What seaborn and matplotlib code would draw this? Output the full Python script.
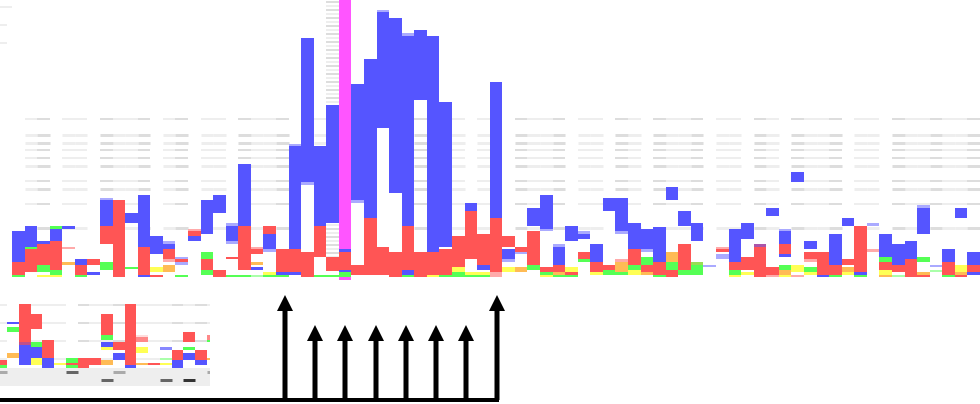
import numpy as np
import pandas as pd
import matplotlib
matplotlib.use("Agg")
import matplotlib.pyplot as plt
import seaborn as sns

sns.set_theme(style="white")
plt.rcParams["font.family"] = ["DejaVu Sans"]

# ---------------------------------------------------------------------------
# Main track: 77 columns, each made of coloured segments (column, low, high)
# ---------------------------------------------------------------------------
N_COLS = 77
COLUMNS = list(range(N_COLS))

BLUE = [
    (0, 15, 46), (1, 30, 51), (2, 33, 36), (3, 36, 48), (4, 48, 51), (5, 12, 18),
    (6, 2, 5), (7, 51, 77), (9, 54, 64), (10, 30, 82), (10, 0, 2), (11, 23, 41),
    (12, 28, 33), (14, 36, 41), (15, 43, 77), (16, 64, 82), (17, 36, 51),
    (18, 51, 113), (19, 7, 10), (20, 28, 43), (21, 2, 5), (22, 28, 131), (22, 2, 5),
    (23, 95, 239), (24, 51, 131), (25, 54, 172), (26, 25, 28), (26, 5, 7),
    (27, 77, 193), (28, 59, 218), (29, 149, 265), (30, 84, 259), (31, 51, 241),
    (31, 2, 7), (32, 177, 247), (33, 25, 241), (34, 30, 175), (36, 66, 74),
    (37, 7, 12), (38, 59, 195), (39, 18, 28), (41, 51, 69), (42, 48, 82),
    (43, 12, 30), (44, 36, 51), (45, 38, 43), (46, 15, 33), (47, 66, 79),
    (48, 46, 79), (49, 28, 54), (50, 28, 48), (51, 15, 50), (52, 77, 90),
    (53, 51, 66), (54, 36, 54), (57, 15, 48), (58, 38, 54), (60, 61, 69),
    (61, 33, 46), (61, 20, 23), (62, 95, 105), (63, 28, 36), (64, 0, 2),
    (65, 12, 43), (66, 51, 59), (67, 2, 5), (69, 20, 43), (70, 12, 33),
    (71, 18, 36), (72, 43, 69), (74, 15, 28), (75, 59, 69), (76, 12, 25), (76, 2, 5),
]

RED = [
    (0, 2, 15), (1, 5, 28), (2, 12, 33), (3, 7, 36), (5, 2, 12), (6, 12, 18),
    (7, 33, 51), (8, 0, 77), (10, 2, 30), (11, 0, 2), (12, 18, 28), (13, 15, 18),
    (14, 41, 46), (15, 7, 18), (16, 0, 7), (17, 18, 20), (18, 7, 51), (19, 23, 28),
    (20, 43, 51), (21, 5, 28), (22, 5, 28), (23, 0, 25), (24, 20, 51), (25, 6, 20),
    (26, 7, 25), (27, 2, 12), (28, 2, 59), (29, 2, 30), (30, 0, 25), (31, 7, 51),
    (32, 0, 25), (33, 2, 25), (34, 2, 28), (35, 10, 41), (36, 18, 66), (37, 12, 43),
    (38, 5, 59), (39, 30, 41), (40, 25, 30), (41, 12, 46), (42, 5, 10), (43, 5, 12),
    (44, 2, 5), (45, 18, 25), (46, 5, 15), (47, 7, 12), (49, 12, 28), (50, 5, 12),
    (51, 2, 15), (52, 0, 7), (53, 7, 33), (56, 25, 28), (57, 7, 15), (58, 7, 20),
    (59, 0, 30), (60, 2, 10), (61, 23, 33), (63, 18, 25), (64, 2, 25), (65, 2, 12),
    (66, 12, 18), (67, 5, 51), (69, 7, 15), (70, 5, 12), (71, 0, 18), (72, 0, 2),
    (74, 2, 15), (75, 0, 2), (76, 5, 12),
]

GREEN = [
    (0, 0, 2), (1, 28, 30), (2, 5, 12), (3, 48, 51), (3, 2, 7), (5, 0, 2),
    (7, 7, 15), (9, 8, 10), (13, 0, 2), (15, 18, 25), (15, 2, 7), (17, 0, 2),
    (18, 0, 2), (20, 0, 2), (21, 0, 2), (24, 0, 2), (25, 0, 2), (26, 0, 5),
    (31, 0, 2), (34, 0, 2), (35, 0, 5), (36, 0, 2), (37, 0, 2), (41, 7, 12),
    (42, 2, 5), (43, 0, 2), (44, 0, 2), (45, 15, 18), (47, 2, 7), (48, 2, 5),
    (49, 7, 12), (50, 12, 20), (51, 0, 2), (52, 7, 15), (53, 2, 7), (54, 2, 12),
    (57, 2, 7), (61, 7, 12), (63, 5, 10), (65, 0, 2), (67, 0, 2), (69, 15, 20),
    (72, 15, 20), (74, 0, 2),
]

YELLOW = [
    (2, 0, 2), (3, 0, 2), (11, 5, 10), (20, 2, 5), (33, 0, 2), (35, 5, 10),
    (36, 2, 5), (37, 2, 5), (39, 5, 10), (42, 0, 2), (44, 5, 10), (46, 2, 5),
    (49, 2, 7), (57, 0, 2), (58, 2, 5), (61, 0, 2), (62, 5, 12), (63, 2, 5),
    (66, 2, 5), (69, 2, 7), (75, 5, 12),
]

ORANGE = [
    (4, 12, 15), (12, 5, 12), (19, 12, 15), (40, 5, 10), (43, 2, 5), (48, 5, 15),
    (50, 2, 5), (52, 15, 25), (61, 2, 7), (66, 5, 10), (69, 0, 2), (72, 2, 5),
    (75, 2, 5),
]

MAGENTA = [(26, 28, 277), (26, -3, 0)]

LIGHT_BLUE = [
    (7, 77, 79), (12, 33, 36), (13, 18, 20), (13, 12, 15), (17, 51, 54),
    (17, 33, 36), (20, 25, 28), (22, 131, 133), (23, 92, 95), (27, 74, 77),
    (29, 265, 267), (31, 241, 244), (39, 15, 18), (40, 23, 25), (42, 46, 48),
    (43, 30, 33), (45, 43, 46), (48, 43, 46), (50, 25, 28), (55, 10, 12),
    (56, 18, 23), (61, 46, 48), (68, 51, 54), (72, 69, 72), (73, 10, 12),
]

PINK = [
    (4, 28, 30), (12, 15, 18), (14, 46, 48), (19, 28, 30), (38, 0, 5),
    (48, 15, 18), (56, 28, 30), (60, 0, 2), (62, 0, 2), (63, 15, 18), (68, 25, 28),
]

LIGHT_GREEN = [(19, 0, 2), (70, 0, 2), (73, 5, 7)]
PURPLE = [(59, 30, 33)]
OLIVE = [(54, 12, 15)]

# faint horizontal rules behind the track (value levels and line widths in px)
RULE_LEVELS = [158, 142.5, 134.5, 127, 119, 111.5, 96, 88.5, 73, 49.5]
RULE_PX = [2, 3, 3, 2, 2, 3, 2, 3, 2, 3]
RULE_LIGHT_COLS = [1, 4, 5, 8, 9, 12, 15, 16, 19, 20, 24, 33, 34, 35, 37, 41, 42,
                   45, 46, 49, 52, 53, 56, 57, 60, 63, 64, 67, 68, 71, 72, 74, 75]
RULE_DARK_COLS = [2, 7, 10, 13, 18, 21, 32, 40, 43, 48, 51, 54, 59, 62, 65, 70, 73, 76]
STRIPE_COL = 25
STRIPE_LEVELS = list(range(275, 170, -4)) + list(range(52, 18, -4))

# ---------------------------------------------------------------------------
# Inset track (19 columns)
# ---------------------------------------------------------------------------
INSET_COLUMNS = list(range(19))
INSET_RED = [(0, 3, 8), (2, 26, 64), (3, 39, 54), (4, 10, 28), (6, 3, 5), (7, 0, 10),
             (8, 3, 10), (9, 33, 54), (10, 18, 26), (11, 3, 64), (13, 3, 5),
             (15, 8, 18), (16, 26, 36), (17, 8, 18)]
INSET_BLUE = [(1, 44, 46), (2, 3, 23), (3, 10, 21), (4, 0, 10), (9, 21, 26),
              (10, 8, 15), (11, 0, 3), (15, 0, 8), (16, 8, 15), (17, 3, 8)]
INSET_GREEN = [(0, 0, 3), (1, 36, 41), (3, 21, 26), (6, 5, 10), (6, 0, 3),
               (9, 28, 33), (16, 18, 21), (18, 26, 28)]
INSET_YELLOW = [(3, 3, 10), (5, 3, 5), (9, 18, 21), (12, 15, 21), (14, 3, 5)]
INSET_ORANGE = [(1, 10, 15), (9, 3, 8), (12, 3, 5), (18, 8, 10)]
INSET_MIXED = [(2, 23, 26)]
INSET_PINK = [(12, 26, 31), (18, 28, 33)]
INSET_PALE = [(12, 31, 33)]
INSET_LIGHT_BLUE = [(14, 18, 21)]
INSET_LIGHT_GREEN = [(14, 8, 10)]
INSET_RULE_LEVELS = [63, 45, 27, 9]
INSET_RULE_LIGHT = [0, 2, 3, 4, 5, 8, 9, 11, 12, 13, 14, 16, 18]
INSET_RULE_DARK = [7, 10, 15, 17]
INSET_MARKS_ROW1 = [(0, "#aaaaaa"), (6, "#666666"), (10, "#aaaaaa"), (18, "#aaaaaa")]
INSET_MARKS_ROW2 = [(9, "#666666"), (14, "#666666"), (16, "#333333")]

# arrows along the bottom rail
ARROW_POS = [285, 315, 345, 376, 406, 436, 466, 497]
ARROW_LEN = [105, 75, 75, 75, 75, 75, 75, 105]

COL = {
    "blue": "#5555ff", "red": "#ff5555", "green": "#55ff55", "yellow": "#ffff55",
    "orange": "#ffbb55", "magenta": "#ff55ff", "lblue": "#aaaaff", "pink": "#ffaaaa",
    "lgreen": "#aaffaa", "purple": "#aa55aa", "olive": "#99dd55",
}

PX_PT = 72 / 100.0


def draw_segments(ax, segs, color, order):
    """Floating bars: one seaborn barplot per tier so each column appears once."""
    df = pd.DataFrame(segs, columns=["col", "low", "high"])
    df["tier"] = df.groupby("col").cumcount()
    for _, part in df.groupby("tier"):
        part = part.sort_values("col")
        sns.barplot(x=part["col"].to_numpy(),
                    y=(part["high"] - part["low"]).to_numpy(),
                    order=order, bottom=part["low"].to_numpy(),
                    color=color, saturation=1, width=1, errorbar=None,
                    linewidth=0, ax=ax, zorder=2)


fig = plt.figure(figsize=(9.8, 4.04), dpi=100)

# ---- main track -----------------------------------------------------------
ax = fig.add_axes([0, 0, 1, 1])
for cols, shade in ((RULE_LIGHT_COLS, "#eeeeee"), (RULE_DARK_COLS, "#dddddd")):
    for lvl, w in zip(RULE_LEVELS, RULE_PX):
        ax.hlines([lvl] * len(cols), np.array(cols) - 0.5, np.array(cols) + 0.5,
                  color=shade, lw=w * PX_PT, zorder=0.5)
for i, lvl in enumerate(STRIPE_LEVELS):
    ax.hlines(lvl, STRIPE_COL - 0.5, STRIPE_COL + 0.5,
              color="#eeeeee" if i % 2 else "#dddddd", lw=2 * PX_PT, zorder=0.5)
ax.hlines([270, 252.5, 234.5], -1.46, [-0.5, -0.9, -0.9], color="#eeeeee",
          lw=2 * PX_PT, zorder=0.5)

for segs, key in ((BLUE, "blue"), (RED, "red"), (GREEN, "green"), (YELLOW, "yellow"),
                  (ORANGE, "orange"), (MAGENTA, "magenta"), (LIGHT_BLUE, "lblue"),
                  (PINK, "pink"), (LIGHT_GREEN, "lgreen"), (PURPLE, "purple"),
                  (OLIVE, "olive")):
    draw_segments(ax, segs, COL[key], COLUMNS)

ax.set_xlim(-0.5 - 12 / (968 / 77), N_COLS - 0.5)
ax.set_ylim(-127, 277)
ax.axis("off")

# ---- inset track ----------------------------------------------------------
ins = fig.add_axes([0, 18 / 404, 210 / 980, 91 / 404])
ins.set_facecolor("white")
ins.axhspan(-18, 0, color="#eeeeee", zorder=0.2, lw=0)
for cols, shade in ((INSET_RULE_LIGHT, "#eeeeee"), (INSET_RULE_DARK, "#dddddd")):
    for lvl in INSET_RULE_LEVELS:
        ins.hlines([lvl] * len(cols), np.array(cols) - 0.5, np.array(cols) + 0.5,
                   color=shade, lw=2 * PX_PT, zorder=0.5)
for marks, lvl in ((INSET_MARKS_ROW1, -3.5), (INSET_MARKS_ROW2, -11.5)):
    for c, shade in marks:
        ins.hlines(lvl, c - 0.5, c + 0.5, color=shade, lw=3 * PX_PT, zorder=1)

for segs, color in ((INSET_RED, COL["red"]), (INSET_BLUE, COL["blue"]),
                    (INSET_GREEN, COL["green"]), (INSET_YELLOW, COL["yellow"]),
                    (INSET_ORANGE, COL["orange"]), (INSET_MIXED, "#c0508a"),
                    (INSET_PINK, "#ff8888"), (INSET_PALE, "#ffdddd"),
                    (INSET_LIGHT_BLUE, "#8888ff"), (INSET_LIGHT_GREEN, COL["lgreen"])):
    draw_segments(ins, segs, color, INSET_COLUMNS)

ins.set_xlim(-1.12 / 11.76, (210 - 1.12) / 11.76)
ins.set_ylim(-18, 73)
ins.axis("off")

# ---- arrow rail -----------------------------------------------------------
top = fig.add_axes([0, 0, 1, 1])
top.set_xlim(0, 980)
top.set_ylim(404, 0)
top.axis("off")
top.patch.set_alpha(0)
rail_y = 400
top.hlines(rail_y, 0, max(ARROW_POS) + 2, color="black", lw=4 * PX_PT)
for x, length in zip(ARROW_POS, ARROW_LEN):
    top.arrow(x, rail_y, 0, -length, width=5, head_width=16, head_length=16,
              length_includes_head=True, fc="black", ec="none")

fig.savefig("out.png", dpi=100)
